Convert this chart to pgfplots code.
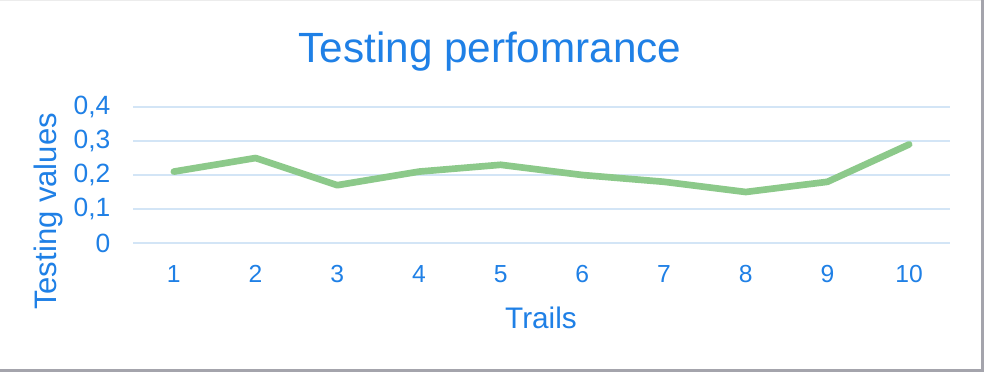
\documentclass[border=0pt]{standalone}
\usepackage{pgfplots}
\pgfplotsset{compat=1.18}
\usepackage{fontspec}
\setmainfont{Liberation Sans}
\definecolor{txtblue}{HTML}{1F80E6}
\definecolor{linegreen}{HTML}{8CC98A}
\definecolor{gridblue}{HTML}{D3E5F6}
\definecolor{frame}{HTML}{A4A4AC}
\begin{document}
\begin{tikzpicture}
\path[use as bounding box] (0pt,0pt) rectangle (741pt,279pt);
\fill[white] (0pt,0pt) rectangle (741pt,279pt);
\draw[frame, line width=2.2pt] (0pt,0.8pt) -- (736.9pt,0.8pt) -- (736.9pt,279pt);
\draw[gray!15, line width=0.8pt] (0pt,278.6pt) -- (736pt,278.6pt);
\begin{axis}[
  at={(99.75pt,96.75pt)}, anchor=south west,
  scale only axis,
  width=612.75pt, height=102pt,
  xmin=0.5, xmax=10.5,
  ymin=0, ymax=0.4,
  axis line style={draw=none},
  major tick length=0pt,
  xtick={1,...,10},
  ytick={0,0.1,0.2,0.3,0.4},
  yticklabels={0,{0,1},{0,2},{0,3},{0,4}},
  ymajorgrids,
  major grid style={gridblue, line width=1.1pt},
  /pgf/number format/assume math mode=true,
  tick label style={font=\fontsize{18.5}{21}\selectfont, text=txtblue},
  yticklabel style={font=\fontsize{19.8}{22}\selectfont, xshift=-13.5pt},
  xticklabel style={yshift=-13.5pt},
  title={Testing perfomrance},
  title style={font=\fontsize{31.7}{35}\selectfont, text=txtblue, at={(axis description cs:0.437,1.35)}, anchor=center},
  xlabel={Trails},
  xlabel style={font=\fontsize{22.3}{25}\selectfont, text=txtblue, at={(axis description cs:0.4994,-0.551)}, anchor=center},
  ylabel={Testing values},
  ylabel style={font=\fontsize{23.3}{26}\selectfont, text=txtblue, at={(axis description cs:-0.103,0.232)}, anchor=center, rotate=0},
  clip=false,
]
\addplot[linegreen, line width=5pt, line join=round, line cap=round] coordinates {
(1,0.21) (2,0.25) (3,0.17) (4,0.21) (5,0.23) (6,0.20) (7,0.18) (8,0.15) (9,0.18) (10,0.29)
};
\end{axis}
\end{tikzpicture}
\end{document}
